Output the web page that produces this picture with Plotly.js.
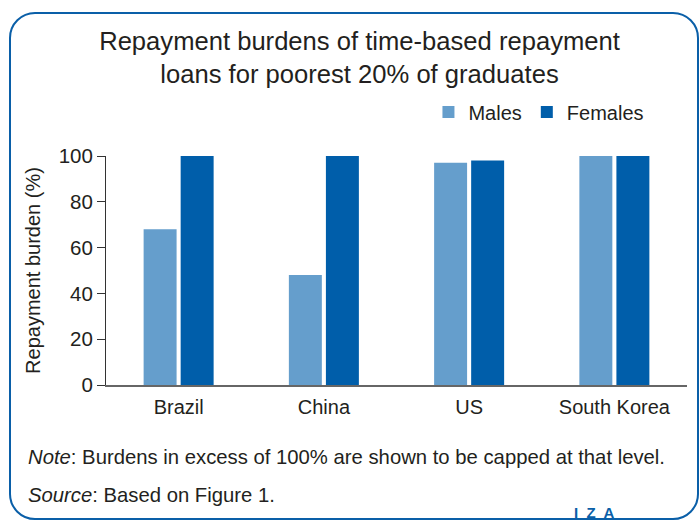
<!DOCTYPE html>
<html>
<head>
<meta charset="utf-8">
<script src="https://cdn.plot.ly/plotly-3.0.1.min.js"></script>
<style>
  html, body { margin: 0; padding: 0; background: #fff; }
  #wrap { position: relative; width: 699px; height: 520px; overflow: hidden; }
  #chart { position: absolute; left: 0; top: 0; width: 699px; height: 520px; }
  #frame { position: absolute; left: 9px; top: 12px; width: 686px; height: 504px;
           border: 2.5px solid #0a5fa8; border-radius: 26px; pointer-events: none; }
</style>
</head>
<body>
<div id="wrap">
  <div id="chart"></div>
  <div id="frame"></div>
</div>
<script>
const categories = ['Brazil', 'China', 'US', 'South Korea'];
const males = [68, 48, 97, 100];
const females = [100, 100, 98, 100];
const yTicks = [0, 20, 40, 60, 80, 100];

const FONT = '"Liberation Sans", Arial, sans-serif';
const TXT = '#231f20';

const traces = [
  { type: 'bar', name: 'Males', x: categories, y: males,
    marker: { color: '#659ecc' }, hoverinfo: 'x+y' },
  { type: 'bar', name: 'Females', x: categories, y: females,
    marker: { color: '#005eaa' }, hoverinfo: 'x+y' }
];

const layout = {
  width: 699, height: 520,
  margin: { l: 106, r: 12, t: 156, b: 135, autoexpand: false },
  paper_bgcolor: '#fff', plot_bgcolor: '#fff',
  font: { family: FONT, color: TXT, size: 20 },
  barmode: 'group', bargap: 0.49, bargroupgap: 0.11,
  title: {
    text: 'Repayment burdens of time-based repayment<br>loans for poorest 20% of graduates',
    font: { family: FONT, size: 25.6, color: TXT },
    xref: 'container', x: 359.5 / 699, xanchor: 'center',
    yref: 'container', y: 1 - 50 / 520, yanchor: 'top'
  },
  showlegend: true,
  legend: {
    orientation: 'h', xref: 'paper', yref: 'paper',
    x: 0.555, xanchor: 'left', y: 1.192, yanchor: 'middle',
    font: { family: FONT, size: 20, color: TXT },
    bgcolor: 'rgba(0,0,0,0)', traceorder: 'normal'
  },
  xaxis: {
    type: 'category', range: [-0.5, 3.5],
    showline: true, linecolor: '#666', linewidth: 1.5,
    ticks: '', showgrid: false, zeroline: false,
    tickfont: { family: FONT, size: 20, color: TXT },
    ticklabelstandoff: 3
  },
  yaxis: {
    range: [0, 100], tickvals: yTicks, ticktext: yTicks.map(String),
    showline: true, linecolor: '#333', linewidth: 1,
    ticks: 'outside', ticklen: 8, tickcolor: '#333', tickwidth: 1,
    showgrid: false, zeroline: false,
    tickfont: { family: FONT, size: 20.5, color: TXT },
    title: { text: 'Repayment burden (%)', font: { family: FONT, size: 20, color: TXT }, standoff: 12 }
  },
  annotations: [
    { xref: 'paper', yref: 'paper', x: (26 - 106) / 581, y: (384.7 - 457) / 228.7,
      xanchor: 'left', yanchor: 'middle', showarrow: false,
      text: '<i>Note</i>: Burdens in excess of 100% are shown to be capped at that level.',
      font: { family: FONT, size: 20.3, color: TXT } },
    { xref: 'paper', yref: 'paper', x: (26 - 106) / 581, y: (384.7 - 495) / 228.7,
      xanchor: 'left', yanchor: 'middle', showarrow: false,
      text: '<i>Source</i>: Based on Figure 1.',
      font: { family: FONT, size: 20.3, color: TXT } },
    { xref: 'paper', yref: 'paper', x: (594 - 106) / 581, y: (384.7 - 512) / 228.7,
      xanchor: 'center', yanchor: 'middle', showarrow: false,
      text: '<b>I  Z  A</b>',
      font: { family: FONT, size: 15, color: '#0a5fa8' } }
  ]
};

Plotly.newPlot('chart', traces, layout, { displayModeBar: false, staticPlot: true });
</script>
</body>
</html>
